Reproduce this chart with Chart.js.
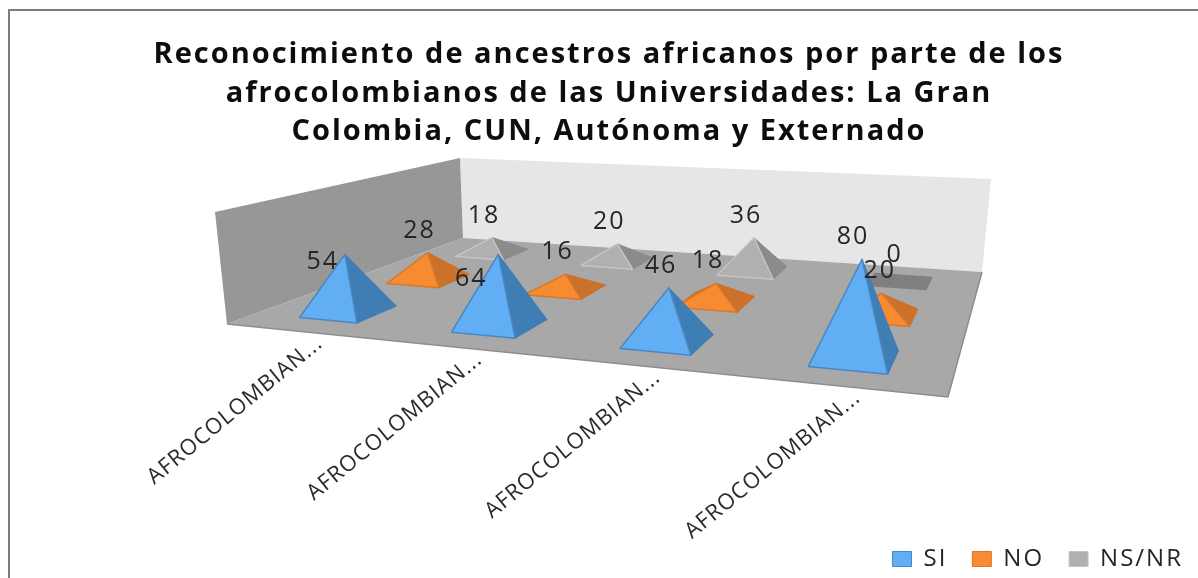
<!DOCTYPE html>
<html><head><meta charset="utf-8">
<style>html,body{margin:0;padding:0;background:#fff}#w{width:1198px;height:578px;position:relative}canvas{filter:blur(.45px)}</style>
<script src="https://cdn.jsdelivr.net/npm/chart.js@4/dist/chart.umd.min.js"></script>
</head><body><div id="w"><canvas id="c"></canvas></div>
<script>
const categories = ["AFROCOLOMBIAN...","AFROCOLOMBIAN...","AFROCOLOMBIAN...","AFROCOLOMBIAN..."];
const seriesSI = [54,64,46,80];
const seriesNO = [28,16,18,20];
const seriesNSNR = [18,20,36,0];
const titleLines = ["Reconocimiento de ancestros africanos por parte de los","afrocolombianos de las Universidades: La Gran","Colombia, CUN, Autónoma y Externado"];

// 3D box of the plot: floor corners (u,v) => 00,10,11,01 and wall tops above 00,01,11
const FLOOR=[[227,324],[948,397],[982,272],[463,238]];
const WALL_TOP=[[215,212],[460,158],[991,179]];
const camera=(function(q,t){
  const [p0,p1,p2,p3]=q;
  const dx1=p1[0]-p2[0],dx2=p3[0]-p2[0],sx=p0[0]-p1[0]+p2[0]-p3[0];
  const dy1=p1[1]-p2[1],dy2=p3[1]-p2[1],sy=p0[1]-p1[1]+p2[1]-p3[1];
  const det=dx1*dy2-dx2*dy1;
  const g=(sx*dy2-dx2*sy)/det,h=(dx1*sy-sx*dy1)/det;
  const a=p1[0]-p0[0]+g*p1[0],b=p3[0]-p0[0]+h*p3[0],c=p0[0];
  const d=p1[1]-p0[1]+g*p1[1],e=p3[1]-p0[1]+h*p3[1],f=p0[1];
  const i=(b+t[0][0]-t[1][0]*(1+h))/(t[1][0]-t[0][0]);
  const wx=t[0][0]*(1+i)-c,wy=t[0][1]*(1+i)-f;
  return {a,b,c,d,e,f,g,h,i,wx,wy};
})(FLOOR,WALL_TOP);
function project(u,v,w){
  const m=camera,q=m.g*u+m.h*v+m.i*w+1;
  return [(m.a*u+m.b*v+m.wx*w+m.c)/q,(m.d*u+m.e*v+m.wy*w+m.f)/q];
}
const poly=(ctx,pts,fill,stroke,lw)=>{ctx.beginPath();pts.forEach((p,i)=>i?ctx.lineTo(p[0],p[1]):ctx.moveTo(p[0],p[1]));ctx.closePath();ctx.fillStyle=fill;ctx.fill();if(stroke){ctx.strokeStyle=stroke;ctx.lineWidth=lw||1;ctx.lineJoin='round';ctx.stroke();}};

const SIDE=['#3f7db5','#cc7129','#8b8b8b'];
const FLAT='#7f7f7f';
const HALF_DEPTH=0.075;
class PyramidElement extends Chart.BarElement{
  static id='pyramid';
  static defaults={...Chart.BarElement.defaults};
  draw(ctx){
    const chart=this.pChart,ds=this.pIndex,area=chart.chartArea,ys=chart.scales.y;
    const u=(this.x-area.left)/area.width,du=this.width/2/area.width;
    const v=(ds+0.5)/chart.data.datasets.length,dv=HALF_DEPTH;
    const w=(this.base-this.y)/(ys.getPixelForValue(0)-ys.getPixelForValue(100));
    const FL=project(u-du,v-dv,0),FR=project(u+du,v-dv,0),BR=project(u+du,v+dv,0),BL=project(u-du,v+dv,0);
    const o=this.options;
    if(w<=0){poly(ctx,[FL,FR,BR,BL],FLAT);return;}
    const A=project(u,v,w);
    poly(ctx,[FL,BL,A],SIDE[ds]);
    poly(ctx,[FR,BR,A],SIDE[ds],SIDE[ds],1);
    poly(ctx,[FL,FR,A],o.backgroundColor,o.borderColor,1.5);
  }
}
class PyramidController extends Chart.BarController{
  static id='pyramid';
  static defaults={...Chart.BarController.defaults,dataElementType:'pyramid'};
  update(mode){
    super.update(mode);
    this._cachedMeta.data.forEach(el=>{el.pChart=this.chart;el.pIndex=this.index;});
  }
}
Chart.register(PyramidElement,PyramidController);

const LS='2px';
const LABEL_SHIFT={default:[-8,-22],"0-0":[-22,8],"0-1":[-27,25],"0-3":[-9,-22],"1-3":[-2,-23],"2-3":[-5,-26]};
const stage={
  id:'stage',
  beforeUpdate(c){c.ctx.letterSpacing=LS;},
  beforeDraw(c){
    const ctx=c.ctx;ctx.letterSpacing=LS;
    ctx.save();
    ctx.fillStyle='#fff';ctx.fillRect(0,0,c.width,c.height);
    ctx.strokeStyle='#7d7d7d';ctx.lineWidth=2;
    ctx.beginPath();ctx.moveTo(9,578);ctx.lineTo(9,10);ctx.lineTo(1198,10);ctx.stroke();
    ctx.restore();
  },
  beforeDatasetsDraw(c){
    const ctx=c.ctx;ctx.save();
    const [T0,T1,T2]=WALL_TOP;
    poly(ctx,[FLOOR[3],FLOOR[2],T2,T1],'#e6e6e6');
    poly(ctx,[FLOOR[0],FLOOR[3],T1,T0],'#979797');
    poly(ctx,FLOOR,'#a8a8a8');
    ctx.strokeStyle='#8d8d8d';ctx.lineWidth=1.5;ctx.beginPath();ctx.moveTo(...FLOOR[0]);ctx.lineTo(...FLOOR[1]);ctx.lineTo(...FLOOR[2]);ctx.stroke();
    ctx.restore();
  },
  afterDatasetsDraw(c){
    const ctx=c.ctx;ctx.save();
    ctx.fillStyle='#262626';ctx.textAlign='center';ctx.textBaseline='middle';
    ctx.font='25px "Open Sans"';
    c.data.datasets.forEach((d,ds)=>{
      c.getDatasetMeta(ds).data.forEach((el,i)=>{
        const area=c.chartArea,u=(el.x-area.left)/area.width,v=(ds+0.5)/c.data.datasets.length;
        const ys=c.scales.y,w=(el.base-el.y)/(ys.getPixelForValue(0)-ys.getPixelForValue(100));
        const A=project(u,v,w),s=LABEL_SHIFT[ds+'-'+i]||LABEL_SHIFT.default;
        ctx.fillText(String(d.data[i]),A[0]+s[0],A[1]+s[1]);
      });
    });
    // category labels, angled, ending just below the floor's front edge
    ctx.font='22px "Open Sans"';ctx.letterSpacing='1px';ctx.textAlign='right';ctx.fillStyle='#2b2b2b';
    const meta=c.getDatasetMeta(0),area=c.chartArea;
    c.data.labels.forEach((t,i)=>{
      const el=meta.data[i],P=project((el.x-area.left)/area.width,0,0);
      ctx.save();ctx.translate(P[0]+19,P[1]+9);ctx.rotate(-39.5*Math.PI/180);ctx.fillText(t,0,0);ctx.restore();
    });
    ctx.letterSpacing=LS;
    ctx.restore();
  }
};
new Chart(document.getElementById('c'),{
  type:'pyramid',
  plugins:[stage],
  data:{labels:categories,datasets:[
    {label:'SI',data:seriesSI,backgroundColor:'#62aef5',borderColor:'#4a87c0',borderWidth:1,clip:false},
    {label:'NO',data:seriesNO,backgroundColor:'#f68b32',borderColor:'#d9782a',borderWidth:1,clip:false},
    {label:'NS/NR',data:seriesNSNR,backgroundColor:'#b0b0b0',borderColor:'#c4c4c4',borderWidth:1,clip:false}
  ]},
  options:{
    responsive:true,maintainAspectRatio:false,animation:false,
    grouped:false,categoryPercentage:0.39,barPercentage:1,
    layout:{padding:{left:10,right:-10,top:0,bottom:-3}},
    scales:{
      x:{type:'category',offset:true,display:false},
      y:{type:'linear',min:0,max:100,display:false}
    },
    plugins:{
      tooltip:{enabled:false},
      title:{display:true,text:titleLines,color:'#0d0d0d',align:'center',
        font:{family:'Open Sans',size:29,weight:'bold',lineHeight:1.34},padding:{top:35,bottom:10}},
      legend:{position:'bottom',align:'end',
        labels:{boxWidth:19,boxHeight:15,padding:25,color:'#262626',font:{family:'Open Sans',size:24}}}
    }
  }
});
</script></body></html>
